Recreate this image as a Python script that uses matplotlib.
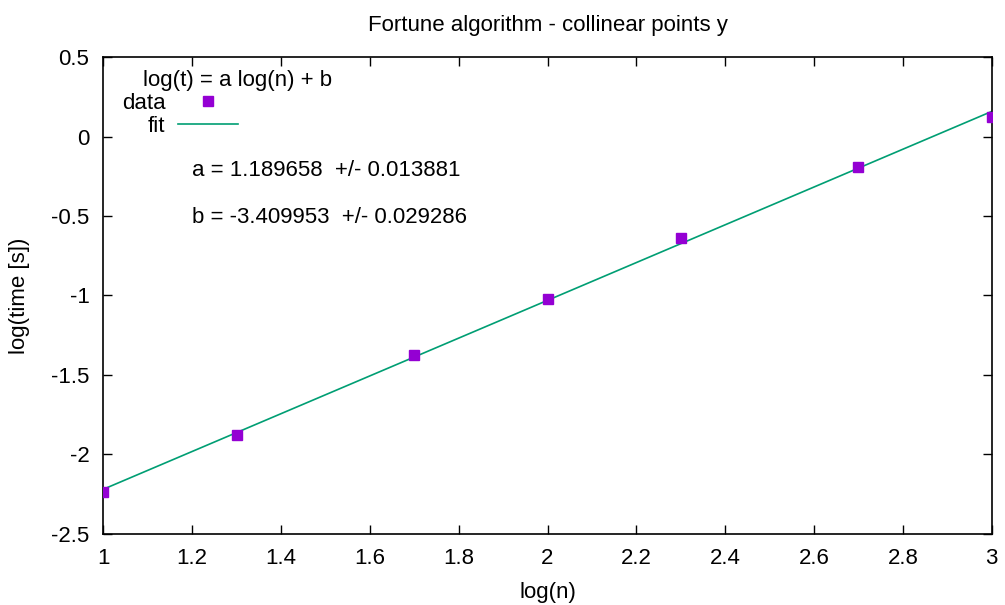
import matplotlib
matplotlib.use("Agg")
import matplotlib.pyplot as plt
import numpy as np

log_n = [1.0, 1.30103, 1.69897, 2.0, 2.30103, 2.69897, 3.0]
log_t = [-2.235, -1.876, -1.377, -1.021, -0.636, -0.191, 0.125]
fit_a = 1.189658
fit_a_err = 0.013881
fit_b = -3.409953
fit_b_err = 0.029286

plt.rcParams['font.family'] = ['Liberation Sans', 'DejaVu Sans']
FS = 16

fig = plt.figure(figsize=(10.05, 6.05), dpi=100)
ax = fig.add_axes([0.1028, 0.1179, 0.884, 0.7874])

ax.plot(log_n, log_t, linestyle='none', marker='s', markersize=7.2,
        color='#9400D3', label='data', zorder=3)
xf = np.array([1.0, 3.0])
ax.plot(xf, fit_a * xf + fit_b, color='#009E73', linewidth=1.2, label='fit', zorder=2)

ax.set_xlim(1, 3)
ax.set_ylim(-2.5, 0.5)
ax.set_xticks(np.arange(1.0, 3.01, 0.2))
ax.set_xticklabels(['1', '1.2', '1.4', '1.6', '1.8', '2', '2.2', '2.4', '2.6', '2.8', '3'])
ax.set_yticks(np.arange(-2.5, 0.51, 0.5))
ax.set_yticklabels(['-2.5', '-2', '-1.5', '-1', '-0.5', '0', '0.5'])
ax.tick_params(direction='in', top=True, right=True, length=6.5, width=1,
               labelsize=FS, pad=10)
for s in ax.spines.values():
    s.set_linewidth(1.2)

ax.set_xlabel('log(n)', fontsize=FS, labelpad=10)
ax.set_ylabel('log(time [s])', fontsize=FS, labelpad=15)
ax.set_title('Fortune algorithm - collinear points y', fontsize=FS, pad=19)

leg = ax.legend(loc='upper left', bbox_to_anchor=(0.021, 0.926), frameon=False,
                markerfirst=False, fontsize=FS, handlelength=2.7, handletextpad=0.58,
                borderpad=0, borderaxespad=0, labelspacing=0.12)
for t in leg.get_texts():
    t.set_ha('right')
ax.text(0.151, 0.951, 'log(t) = a log(n) + b', transform=ax.transAxes,
        fontsize=FS, ha='center', va='center')

ax.text(0.0999, 0.7634, 'a = %.6f  +/- %.6f' % (fit_a, fit_a_err), transform=ax.transAxes,
        fontsize=FS, va='center')
ax.text(0.0999, 0.6627, 'b = %.6f  +/- %.6f' % (fit_b, fit_b_err), transform=ax.transAxes,
        fontsize=FS, va='center')

fig.savefig('out.png', dpi=100)
